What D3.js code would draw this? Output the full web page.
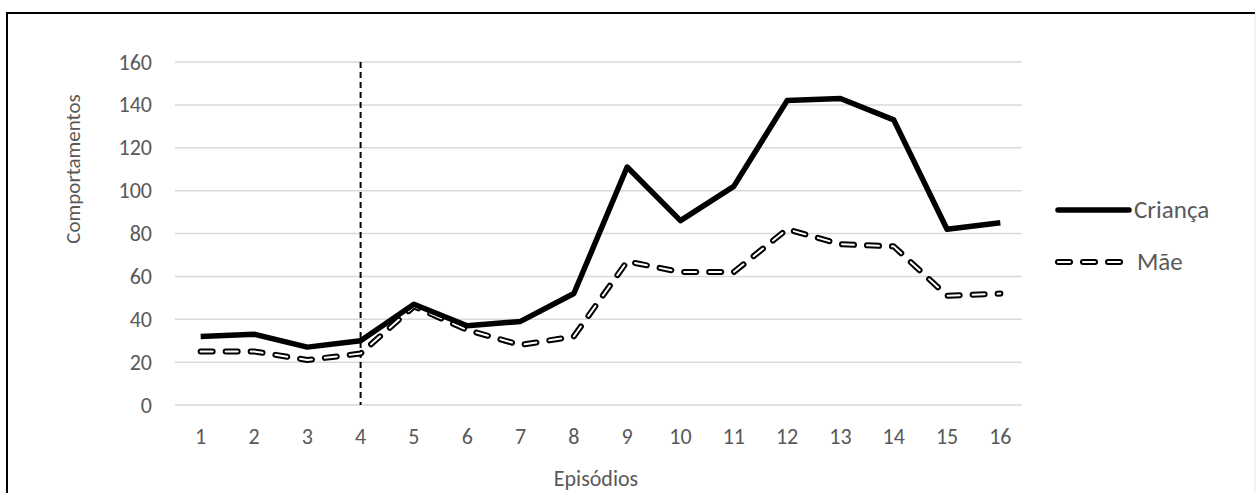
<!DOCTYPE html>
<html>
<head>
<meta charset="utf-8">
<script src="https://cdn.jsdelivr.net/npm/d3@7"></script>
<style>
  body { margin: 0; background: #fff; }
  text { font-family: Carlito, "Open Sans", "Liberation Sans", sans-serif; fill: #595959; }
</style>
</head>
<body>
<div id="chart"></div>
<script>
  // dados
  const episodios = ["1","2","3","4","5","6","7","8","9","10","11","12","13","14","15","16"]
  const crianca = [32, 33, 27, 30, 47, 37, 39, 52, 111, 86, 102, 142, 143, 133, 82, 85]
  const mae = [25, 25, 21, 24, 46, 35, 28, 32, 67, 62, 62, 82, 75, 74, 51, 52]
  const yTicks = [0, 20, 40, 60, 80, 100, 120, 140, 160]
  const marco = "4"

  const W = 1256, H = 493
  const svg = d3.select("#chart").append("svg")
    .attr("width", W).attr("height", H)

  // borda
  svg.append("path")
    .attr("d", `M7,${H} L7,13 L${W - 1},13`)
    .attr("fill", "none").attr("stroke", "#000").attr("stroke-width", 2)
  svg.append("line")
    .attr("x1", W - 1).attr("x2", W - 1).attr("y1", 14).attr("y2", H)
    .attr("stroke", "#e6e6e6").attr("stroke-width", 1)

  const x = d3.scaleBand().domain(episodios).range([174, 1027])
  const y = d3.scaleLinear().domain([0, 160]).range([405, 62])
  const cx = d => x(d) + x.bandwidth() / 2

  // grade
  svg.append("g").selectAll("line").data(yTicks).join("line")
    .attr("x1", 175).attr("x2", 1022)
    .attr("y1", d => y(d)).attr("y2", d => y(d))
    .attr("stroke", "#d9d9d9").attr("stroke-width", 1.5)

  // eixo y
  const yAxis = svg.append("g").attr("transform", "translate(152,0)")
    .call(d3.axisLeft(y).tickValues(yTicks).tickSize(0).tickPadding(0))
  yAxis.select(".domain").remove()
  yAxis.selectAll("text").style("font-size", "22px").attr("fill", "#595959")

  // eixo x
  const xAxis = svg.append("g").attr("transform", "translate(0,405)")
    .call(d3.axisBottom(x).tickSize(0).tickPadding(23))
  xAxis.select(".domain").remove()
  xAxis.selectAll("text").style("font-size", "22px").attr("fill", "#595959")

  svg.append("text")
    .attr("x", 596).attr("y", 486)
    .attr("text-anchor", "middle").style("font-size", "22px")
    .text("Episódios")
  svg.append("text")
    .attr("transform", "translate(80,169) rotate(-90)")
    .attr("text-anchor", "middle").style("font-size", "21px")
    .text("Comportamentos")

  // linha vertical tracejada
  svg.append("line")
    .attr("x1", cx(marco)).attr("x2", cx(marco))
    .attr("y1", y(160)).attr("y2", y(0))
    .attr("stroke", "#000").attr("stroke-width", 2)
    .attr("stroke-dasharray", "6,4")

  const line = d3.line().x((d, i) => cx(episodios[i])).y(d => y(d))

  // Mãe: tracejado com contorno
  svg.append("path").datum(mae)
    .attr("d", line).attr("fill", "none")
    .attr("stroke", "#000").attr("stroke-width", 6)
    .attr("stroke-linecap", "round").attr("stroke-linejoin", "round")
    .attr("stroke-dasharray", "12,13")
  svg.append("path").datum(mae)
    .attr("d", line).attr("fill", "none")
    .attr("stroke", "#fff").attr("stroke-width", 2)
    .attr("stroke-linecap", "round").attr("stroke-linejoin", "round")
    .attr("stroke-dasharray", "12,13")

  // Criança
  svg.append("path").datum(crianca)
    .attr("d", line).attr("fill", "none")
    .attr("stroke", "#000").attr("stroke-width", 5.5)
    .attr("stroke-linejoin", "round")

  // legenda
  const leg = svg.append("g")
  leg.append("line")
    .attr("x1", 1058).attr("x2", 1129).attr("y1", 210).attr("y2", 210)
    .attr("stroke", "#000").attr("stroke-width", 5.5).attr("stroke-linecap", "round")
  leg.append("text").attr("x", 1134).attr("y", 218).style("font-size", "25px").text("Criança")
  leg.append("line")
    .attr("x1", 1058).attr("x2", 1125).attr("y1", 262).attr("y2", 262)
    .attr("stroke", "#000").attr("stroke-width", 6).attr("stroke-linecap", "round")
    .attr("stroke-dasharray", "12,13")
  leg.append("line")
    .attr("x1", 1058).attr("x2", 1125).attr("y1", 262).attr("y2", 262)
    .attr("stroke", "#fff").attr("stroke-width", 2).attr("stroke-linecap", "round")
    .attr("stroke-dasharray", "12,13")
  leg.append("text").attr("x", 1137).attr("y", 270).style("font-size", "25px").text("Mãe")
</script>
</body>
</html>
